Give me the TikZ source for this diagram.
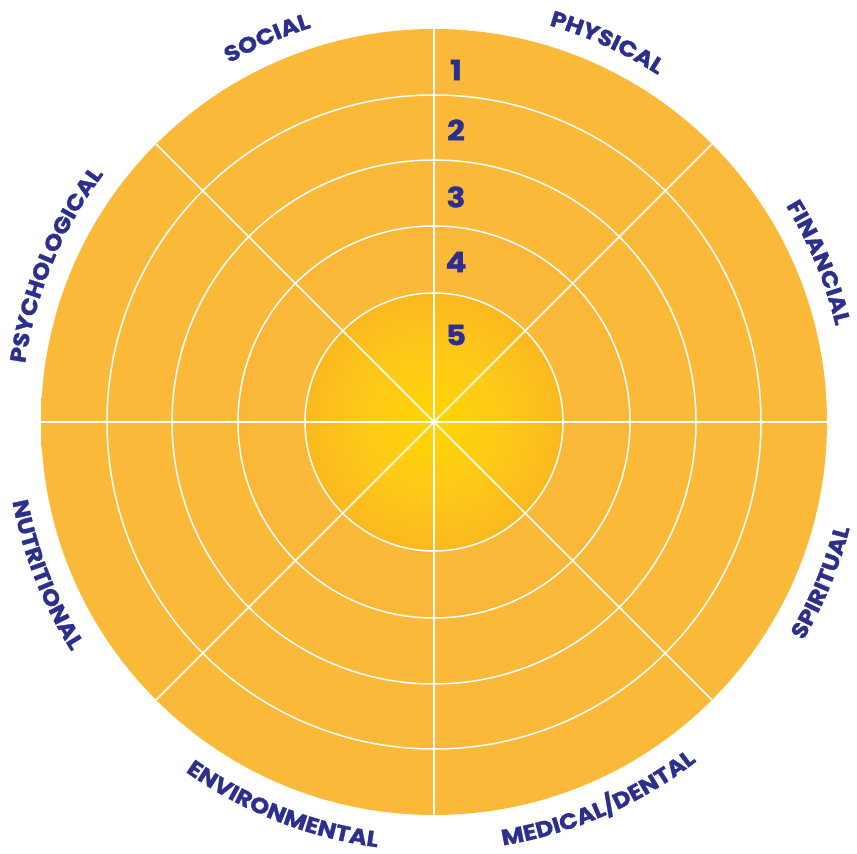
\documentclass[tikz,border=0pt]{standalone}
\usepackage{fontspec}
\setmainfont{Poppins}
\newfontfamily\labfam{Poppins}[BoldFeatures={FakeBold=1.3,FakeStretch=1.11}]
\usetikzlibrary{decorations.text,calc}
\definecolor{navy}{HTML}{2C2F8E}
\definecolor{orgA}{HTML}{F6A01A}
\definecolor{liteA}{HTML}{FBB93A}
\definecolor{coreC}{HTML}{FFD500}
\definecolor{coreM}{HTML}{FECA18}
\definecolor{coreE}{HTML}{F7AA26}
\pgfdeclareradialshading{ringone}{\pgfpointorigin}{color(0bp)=(liteA); color(29.4bp)=(liteA); color(35.36bp)=(orgA); color(50bp)=(orgA)}
\pgfdeclareradialshading{ringtwo}{\pgfpointorigin}{color(0bp)=(liteA); color(28.3bp)=(liteA); color(35.36bp)=(orgA); color(50bp)=(orgA)}
\pgfdeclareradialshading{ringthree}{\pgfpointorigin}{color(0bp)=(liteA); color(26.5bp)=(liteA); color(35.36bp)=(orgA); color(50bp)=(orgA)}
\pgfdeclareradialshading{ringfour}{\pgfpointorigin}{color(0bp)=(liteA); color(23.3bp)=(liteA); color(35.36bp)=(orgA); color(50bp)=(orgA)}
\pgfdeclareradialshading{ringcore}{\pgfpointorigin}{color(0bp)=(coreC); color(13bp)=(coreM); color(35.36bp)=(coreE); color(50bp)=(coreE)}
\newcommand\labfont{\labfam\bfseries\fontsize{22}{26}\selectfont}
\tikzset{
  grid line/.style={draw=white, line width=1.5pt},
  num/.style={text=navy, font=\labfam\bfseries\fontsize{28}{30}\selectfont, inner sep=0pt},
  arclabel/.style={decorate, decoration={text along path, text={|\labfont|#1}, text align=center, text color=navy}},
}
\begin{document}
\begin{tikzpicture}[x=1pt,y=1pt]
\useasboundingbox (0,0) rectangle (857,854);
\coordinate (O) at (434,432);
% rings
\shade[shading=ringone] (O) circle[radius=393];
\shade[shading=ringtwo] (O) circle[radius=327];
\shade[shading=ringthree] (O) circle[radius=262];
\shade[shading=ringfour] (O) circle[radius=196];
\shade[shading=ringcore] (O) circle[radius=129];
\foreach \r in {327,262,196,129} \draw[grid line] (O) circle[radius=\r];
\foreach \a in {0,45,...,315} \draw[grid line] (O) -- ($(O)+(\a:393)$);
% numbers
\node[num] (n1) at (456,784) {1};
\node[num] (n2) at (456,724) {2};
\node[num] (n3) at (456,657) {3};
\node[num] (n4) at (456,592) {4};
\node[num] (n5) at (456,519) {5};
% labels on top half (clockwise)
\path[arclabel=PHYSICAL] ($(O)+(105:413)$) arc[start angle=105, end angle=26, radius=413];
\path[arclabel=SOCIAL] ($(O)+(153:413)$) arc[start angle=153, end angle=74, radius=413];
\path[arclabel=FINANCIAL] ($(O)+(65:413)$) arc[start angle=65, end angle=-20, radius=413];
\path[arclabel=PSYCHOLOGICAL] ($(O)+(205:413)$) arc[start angle=205, end angle=110, radius=413];
% labels on bottom half (counterclockwise)
\path[arclabel=SPIRITUAL] ($(O)+(-65:429)$) arc[start angle=-65, end angle=20, radius=429];
\path[arclabel=MEDICAL/DENTAL] ($(O)+(-114:429)$) arc[start angle=-114, end angle=-19, radius=429];
\path[arclabel=ENVIRONMENTAL] ($(O)+(-159:429)$) arc[start angle=-159, end angle=-64, radius=429];
\path[arclabel=NUTRITIONAL] ($(O)+(154:429)$) arc[start angle=154, end angle=249, radius=429];
\end{tikzpicture}
\end{document}
